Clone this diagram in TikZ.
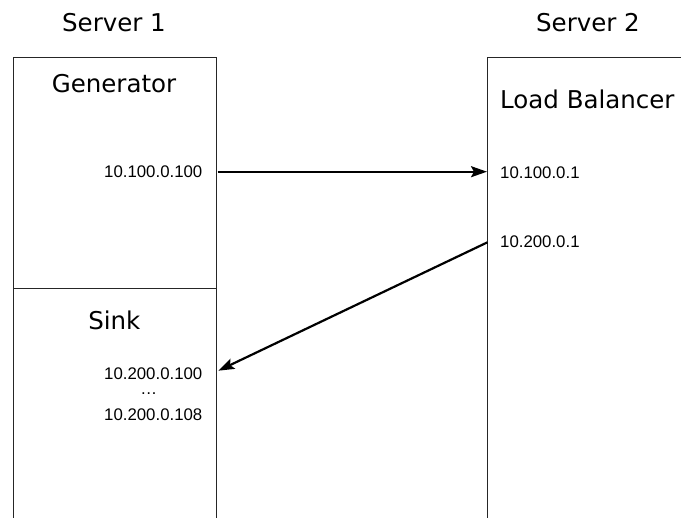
\documentclass[tikz,border=0pt]{standalone}
\usepackage{fontspec}
\setmainfont{Liberation Sans}
\newfontfamily\titlefont{DejaVu Sans}
\usetikzlibrary{arrows.meta}

\tikzset{
  servername/.style={font=\titlefont\fontsize{24.5}{29}\selectfont, inner sep=0pt, anchor=center},
  compname/.style={font=\titlefont\fontsize{24.5}{29}\selectfont, inner sep=0pt},
  addr/.style={font=\fontsize{16.8}{20}\selectfont, inner sep=0pt},
  frame/.style={draw=black!85, line width=1pt},
  link/.style={draw=black, line width=2.2pt, -{Stealth[length=16pt,width=11pt,inset=3pt]}}
}

\begin{document}
\begin{tikzpicture}[x=1pt,y=-1pt]
  \useasboundingbox (0,0) rectangle (681,518);
  \clip (0,0) rectangle (681,518);

  % server frames (open below and to the right)
  \coordinate (s1tl) at (13,58);
  \coordinate (s1tr) at (216,58);
  \coordinate (s2tl) at (487,58);
  \draw[frame] (13,530) -- (s1tl) -- (s1tr) -- (216,530);
  \draw[frame] (13,288.5) -- (216,288.5);
  \draw[frame] (487,530) -- (s2tl) -- (690,58);

  % headings
  \node[servername] (srv1) at (114,23) {Server 1};
  \node[servername] (srv2) at (588,23) {Server 2};

  % server 1 components
  \node[compname] (gen) at (114,84) {Generator};
  \node[addr, anchor=east] (genip) at (202.5,172) {10.100.0.100};
  \node[compname] (sink) at (114.3,320) {Sink};
  \node[addr, anchor=east] (sinkip1) at (202.5,373.7) {10.200.0.100};
  \node[addr, anchor=base] (sinkdots) at (148.7,394.5) {…};
  \node[addr, anchor=east] (sinkip2) at (202.5,414.5) {10.200.0.108};

  % server 2 components
  \node[compname, anchor=west] (lb) at (500,99.5) {Load Balancer};
  \node[addr, anchor=west] (lbip1) at (500,172.5) {10.100.0.1};
  \node[addr, anchor=west] (lbip2) at (500,242) {10.200.0.1};

  % traffic
  \coordinate (genout) at (217.5,171.7);
  \coordinate (lbin) at (487,171.7);
  \coordinate (lbout) at (487.5,242.3);
  \coordinate (sinkin) at (218.3,370.7);
  \draw[link] (genout) -- (lbin);
  \draw[link] (lbout) -- (sinkin);
\end{tikzpicture}
\end{document}
